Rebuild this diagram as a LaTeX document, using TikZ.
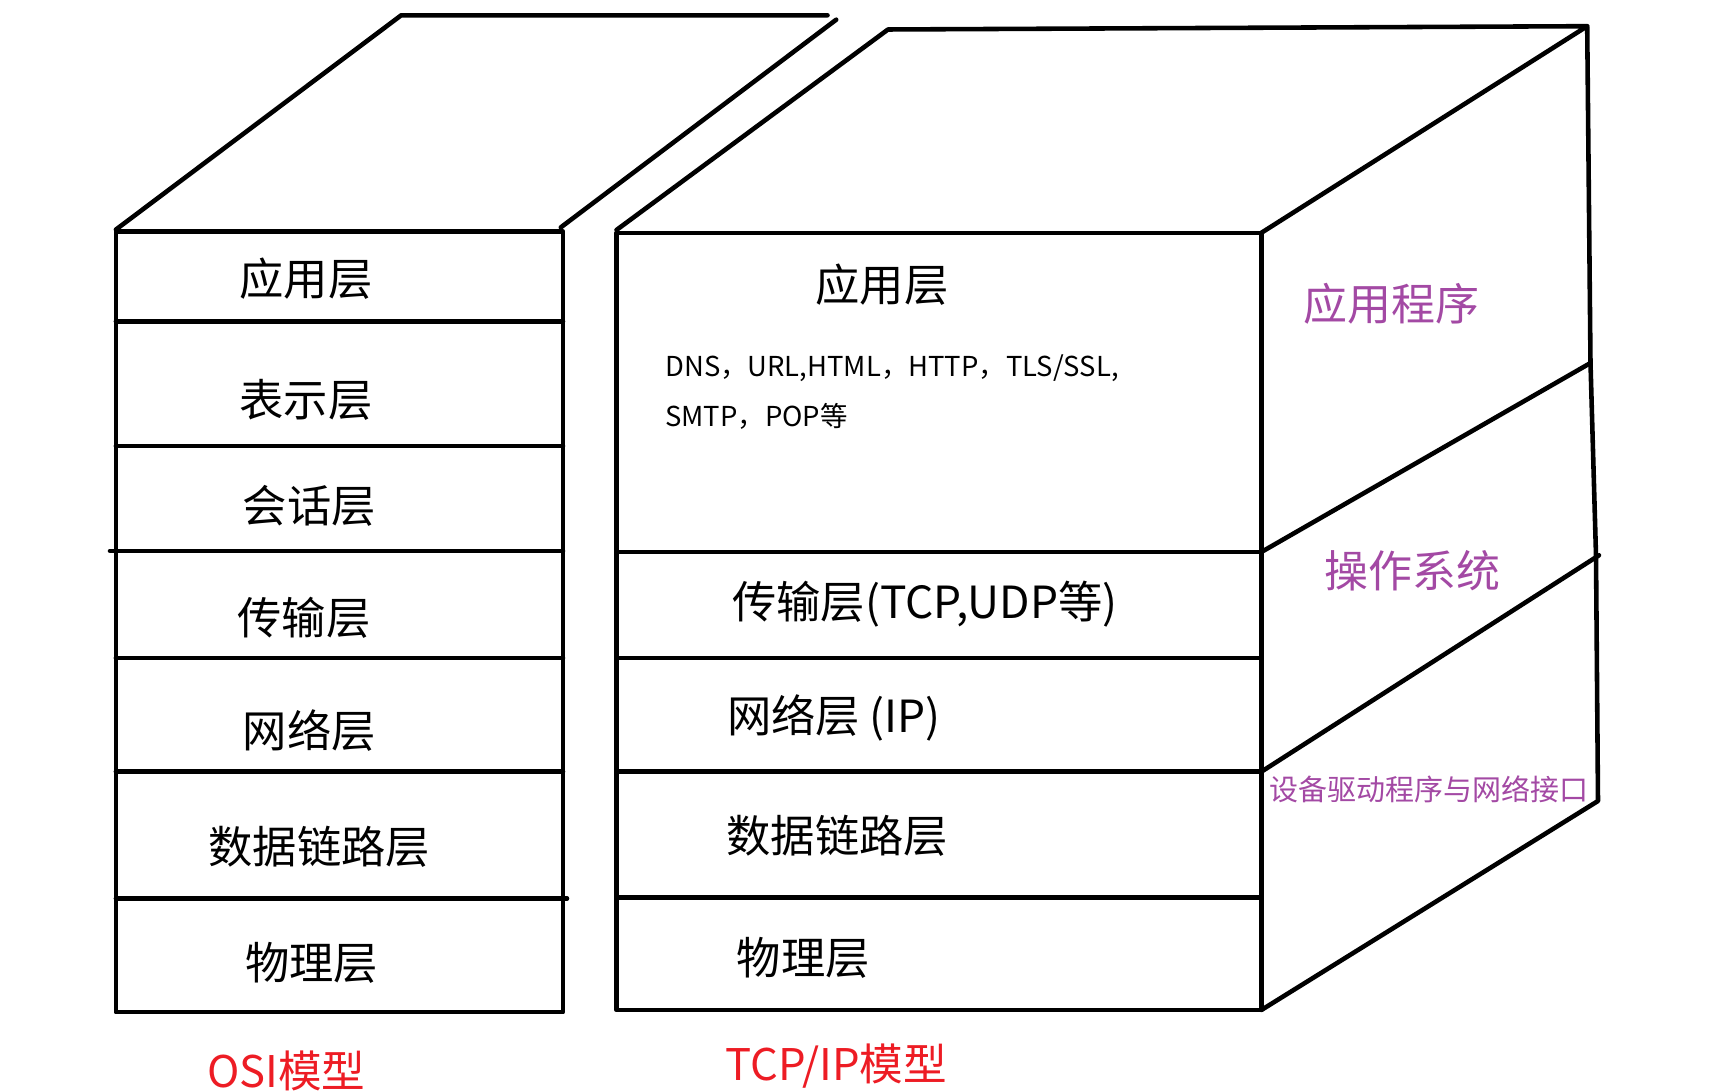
\documentclass[tikz,border=0pt]{standalone}
\usepackage{fontspec}
\newfontfamily\cjk{Noto Sans CJK SC}
\usetikzlibrary{positioning}
\definecolor{sidepurple}{RGB}{163,73,164}
\definecolor{modelred}{RGB}{237,28,36}
\tikzset{
  boxline/.style   = {line width=1.3pt, line cap=round, line join=round},
  layername/.style = {font=\cjk\fontsize{12.6}{15}\selectfont},
  protolist/.style = {font=\cjk\fontsize{7.8}{14}\selectfont, align=left, anchor=west, inner sep=0pt},
  sidename/.style  = {font=\cjk\fontsize{12.5}{15}\selectfont, text=sidepurple},
  smallside/.style = {font=\cjk\fontsize{8.25}{10}\selectfont, text=sidepurple},
  modelname/.style = {font=\cjk\fontsize{12.4}{15}\selectfont, text=modelred},
}

\begin{document}
\begin{tikzpicture}[x=0.01cm,y=-0.01cm]
  \useasboundingbox (0,0) rectangle (1714,1092);

  % OSI block
  \draw[boxline] (115.9,231.7) rectangle (563,1012.2);
  \foreach \y in {321.4,446,658,771.7} {
    \draw[boxline] (115.9,\y) -- (563,\y);
  }
  \draw[boxline] (110,550.9) -- (563,550.9);
  \draw[boxline] (115.9,898.5) -- (567,898.5);
  \draw[boxline] (115.9,229.6) -- (401.2,15.3) -- (827.5,15.3);
  \draw[boxline] (836.2,19.7) -- (560.8,227.4);

  \node[layername] (osi-app)  at (306,278.7) {应用层};
  \node[layername] (osi-pres) at (306,400)   {表示层};
  \node[layername] (osi-sess) at (309.4,506) {会话层};
  \node[layername] (osi-tran) at (303.9,617.6) {传输层};
  \node[layername] (osi-net)  at (309.4,730.2) {网络层};
  \node[layername] (osi-link) at (319.2,847.2) {数据链路层};
  \node[layername] (osi-phys) at (311.5,963)   {物理层};
  \node[modelname] (osi-name) at (286.4,1071.2) {OSI模型};

  % TCP/IP block
  \draw[boxline] (616.5,232.8) rectangle (1261.4,1010);
  \foreach \y in {552,658,771.7,897.4} {
    \draw[boxline] (616.5,\y) -- (1261.4,\y);
  }
  \draw[boxline] (616.5,230) -- (888,29.5) -- (1587.2,26.2) -- (1261.4,232.8);
  \draw[boxline] (1587.2,26.2) -- (1590.5,363) -- (1596,555.3) -- (1598,801) -- (1261.4,1010);
  \draw[boxline] (1261.4,552) -- (1590.5,363);
  \draw[boxline] (1261.4,771.7) -- (1599,555.3);

  \node[layername] (tcp-app)  at (882,284.2) {应用层};
  \node[protolist] (tcp-list) at (664.6,392) {DNS，URL,HTML，HTTP，TLS/SSL,\\SMTP，POP等};
  \node[layername] (tcp-tran) at (924.8,604.5) {传输层(TCP,UDP等)};
  \node[layername] (tcp-net)  at (834,718.2)   {网络层 (IP)};
  \node[layername] (tcp-link) at (837.3,836.2) {数据链路层};
  \node[layername] (tcp-phys) at (803.4,957.6) {物理层};
  \node[modelname] (tcp-name) at (836.2,1065.8) {TCP/IP模型};

  % side face
  \node[sidename]  (side-app) at (1391.5,303.9) {应用程序};
  \node[sidename]  (side-os)  at (1412.3,570.6) {操作系统};
  \node[smallside] (side-dev) at (1428.7,789.2) {设备驱动程序与网络接口};
\end{tikzpicture}
\end{document}
